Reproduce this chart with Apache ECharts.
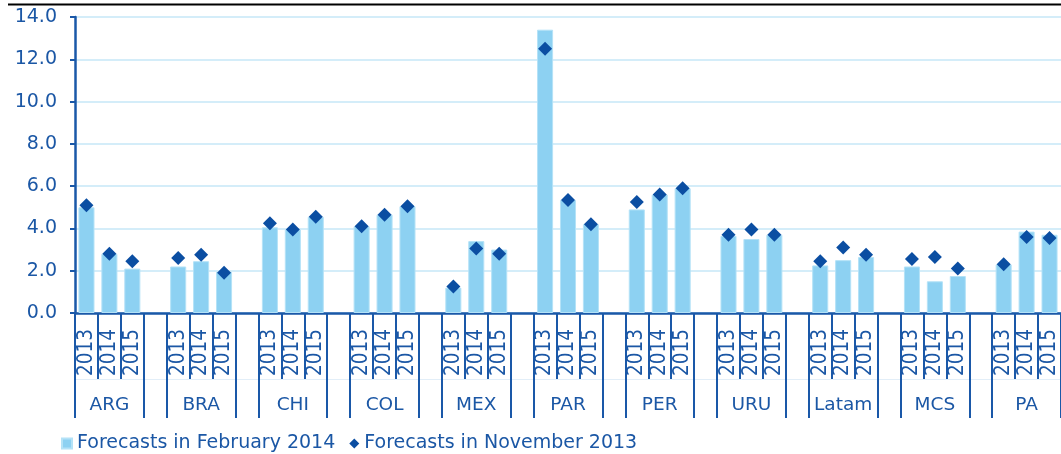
<!DOCTYPE html>
<html>
<head>
<meta charset="utf-8">
<script src="https://cdn.jsdelivr.net/npm/echarts@6/dist/echarts.min.js"></script>
<style>
  html, body { margin: 0; padding: 0; background: #ffffff; }
  #chart { width: 1061px; height: 454px; }
</style>
</head>
<body>
<div id="chart"></div>
<script>
// Growth forecasts by country, three years per group
const countries = ['ARG', 'BRA', 'CHI', 'COL', 'MEX', 'PAR', 'PER', 'URU', 'Latam', 'MCS', 'PA'];
const years = ['2013', '2014', '2015'];

// Forecasts in February 2014 (bars), one row per country: 2013, 2014, 2015
const febValues = [
  [5.0, 2.8, 2.1],
  [2.2, 2.45, 1.95],
  [4.05, 3.95, 4.55],
  [4.1, 4.65, 5.05],
  [1.2, 3.4, 3.0],
  [13.4, 5.35, 4.2],
  [4.9, 5.6, 5.9],
  [3.65, 3.5, 3.7],
  [2.25, 2.5, 2.65],
  [2.2, 1.5, 1.75],
  [2.3, 3.85, 3.7]
];

// Forecasts in November 2013 (diamonds)
const novValues = [
  [5.1, 2.8, 2.45],
  [2.6, 2.75, 1.9],
  [4.25, 3.95, 4.55],
  [4.1, 4.65, 5.05],
  [1.25, 3.05, 2.8],
  [12.5, 5.35, 4.2],
  [5.25, 5.6, 5.9],
  [3.7, 3.95, 3.7],
  [2.45, 3.1, 2.75],
  [2.55, 2.65, 2.1],
  [2.3, 3.6, 3.55]
];

const yTicks = [0, 2, 4, 6, 8, 10, 12, 14];
const seriesNames = ['Forecasts in February 2014', 'Forecasts in November 2013'];

// Flatten into slots: three years per country followed by an empty spacer slot
const yearSlots = [];
const groupSlots = [];
const febSlots = [];
const novSlots = [];
countries.forEach(function (c, g) {
  years.forEach(function (y, k) {
    yearSlots.push(y);
    groupSlots.push(k === 1 ? c : '');
    febSlots.push(febValues[g][k]);
    novSlots.push(novValues[g][k]);
  });
  if (g < countries.length - 1) {
    yearSlots.push('');
    groupSlots.push('');
    febSlots.push(null);
    novSlots.push(null);
  }
});

const textBlue = '#1B57A5';
const axisBlue = '#1A58A8';
const font = "'DejaVu Sans', Verdana, sans-serif";

const chart = echarts.init(document.getElementById('chart'), null, { renderer: 'canvas' });

chart.setOption({
  animation: false,
  backgroundColor: '#ffffff',
  grid: {
    left: 75,
    right: 0,
    top: 17,
    bottom: 141,
    containLabel: false,
    outerBoundsMode: 'none'
  },
  legend: {
    left: 56,
    top: 429,
    itemWidth: 10,
    itemHeight: 10,
    itemGap: 14,
    textStyle: { color: textBlue, fontFamily: font, fontSize: 19 },
    data: [
      { name: seriesNames[0], icon: 'rect' },
      { name: seriesNames[1], icon: 'diamond' }
    ]
  },
  graphic: [{
    type: 'line',
    shape: { x1: 8, y1: 4.5, x2: 1061, y2: 4.5 },
    style: { stroke: '#000000', lineWidth: 2 },
    silent: true
  }],
  xAxis: [
    {
      // year labels with short separators
      type: 'category',
      data: yearSlots,
      position: 'bottom',
      axisLine: { show: true, lineStyle: { color: axisBlue, width: 2.5 } },
      axisTick: { show: true, interval: 0, length: 66, lineStyle: { color: axisBlue, width: 2 } },
      axisLabel: {
        interval: 0,
        rotate: 90,
        margin: 16,
        color: textBlue,
        fontFamily: "'Liberation Sans Narrow', 'DejaVu Sans Condensed', 'Arial Narrow', sans-serif",
        fontSize: 20.5
      },
      splitLine: { show: false }
    },
    {
      // country labels with long group separators
      type: 'category',
      data: groupSlots,
      position: 'bottom',
      axisLine: { show: false },
      axisTick: {
        show: true,
        interval: function (i) { return i % 4 === 0 || i % 4 === 3; },
        length: 105,
        lineStyle: { color: axisBlue, width: 2 }
      },
      axisLabel: {
        interval: 0,
        margin: 83,
        color: textBlue,
        fontFamily: font,
        fontSize: 18.5
      },
      splitLine: { show: false }
    },
    {
      // faint divider between the two label rows
      type: 'category',
      data: yearSlots,
      position: 'bottom',
      offset: 66,
      axisLine: { show: true, lineStyle: { color: '#E2EEF8', width: 1 } },
      axisTick: { show: false },
      axisLabel: { show: false },
      splitLine: { show: false }
    }
  ],
  yAxis: {
    type: 'value',
    min: yTicks[0],
    max: yTicks[yTicks.length - 1],
    interval: 2,
    axisLine: { show: true, lineStyle: { color: axisBlue, width: 2.5 } },
    axisTick: { show: true, length: 5, lineStyle: { color: axisBlue, width: 2 } },
    axisLabel: {
      margin: 18,
      color: textBlue,
      fontFamily: font,
      fontSize: 19,
      formatter: function (v) { return v.toFixed(1); }
    },
    splitLine: { show: true, lineStyle: { color: '#C6E7F7', width: 1.5 } }
  },
  series: [
    {
      name: seriesNames[0],
      type: 'bar',
      xAxisIndex: 0,
      data: febSlots,
      barWidth: '70%',
      itemStyle: { color: '#8DD1F2', borderColor: '#B4E2F7', borderWidth: 1 },
      z: 2
    },
    {
      name: seriesNames[1],
      type: 'scatter',
      xAxisIndex: 0,
      data: novSlots,
      symbol: 'diamond',
      symbolSize: 14,
      itemStyle: { color: '#0B4EA2', opacity: 1 },
      z: 3
    }
  ]
});
</script>
</body>
</html>
